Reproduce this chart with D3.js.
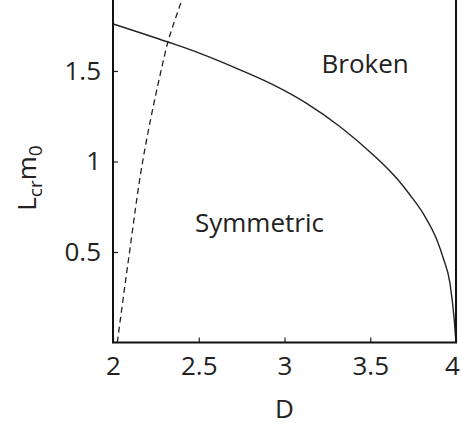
<!DOCTYPE html>
<html>
<head>
<meta charset="utf-8">
<script src="https://cdn.jsdelivr.net/npm/d3@7"></script>
<style>
  body { margin: 0; background: #fff; }
  text { font-family: "Open Sans", sans-serif; fill: #222; }
</style>
</head>
<body>
<div id="chart"></div>
<script>
// critical line L_cr m0 versus D
const solidD = [2.0, 2.32, 2.5, 2.741, 2.935, 3.129, 3.324, 3.518, 3.654, 3.732, 3.81, 3.887, 3.926, 3.965, 3.99, 4.0];
const solidL = [1.76, 1.66, 1.60, 1.506, 1.423, 1.321, 1.192, 1.036, 0.907, 0.815, 0.71, 0.57, 0.465, 0.327, 0.124, 0.0];

const dashD = [2.025, 2.095, 2.173, 2.28, 2.32, 2.40, 2.42];
const dashL = [0.0, 0.49, 1.0, 1.5, 1.66, 1.89, 1.95];

const xTicks = [2, 2.5, 3, 3.5, 4];
const yTicks = [0.5, 1, 1.5];

const width = 461;
const height = 429;
const margin = { left: 113, right: 5, top: 0, bottom: 87 };

const x = d3.scaleLinear().domain([2, 4]).range([margin.left, width - margin.right]);
const y = d3.scaleLinear().domain([0, 1.892]).range([height - margin.bottom + 0.5, margin.top]);

const svg = d3.select('#chart')
  .append('svg')
  .attr('width', width)
  .attr('height', height);

svg.append('defs').append('clipPath').attr('id', 'clip')
  .append('rect')
  .attr('x', x(2)).attr('y', 0)
  .attr('width', x(4) - x(2)).attr('height', y(0));

const plot = svg.append('g').attr('clip-path', 'url(#clip)');

plot.append('path')
  .datum(solidD.map((d, i) => [d, solidL[i]]))
  .attr('d', d3.line().x((d) => x(d[0])).y((d) => y(d[1])).curve(d3.curveMonotoneX))
  .attr('fill', 'none')
  .attr('stroke', '#222')
  .attr('stroke-width', 1.4);

plot.append('path')
  .datum(dashD.map((d, i) => [d, dashL[i]]))
  .attr('d', d3.line().x((d) => x(d[0])).y((d) => y(d[1])).curve(d3.curveMonotoneY))
  .attr('fill', 'none')
  .attr('stroke', '#222')
  .attr('stroke-width', 1.3)
  .attr('stroke-dasharray', '6,4');

// axes with inward ticks
const xAxis = svg.append('g')
  .attr('transform', `translate(0,${y(0)})`)
  .call(d3.axisBottom(x).tickValues(xTicks).tickSize(-5).tickPadding(14).tickFormat(d3.format('')));

const yAxis = svg.append('g')
  .attr('transform', `translate(${x(2)},0)`)
  .call(d3.axisLeft(y).tickValues(yTicks).tickSize(-5).tickPadding(12).tickFormat(d3.format('')));

[xAxis, yAxis].forEach((g) => {
  g.select('.domain').remove();
  g.selectAll('.tick line').attr('stroke', '#222').attr('stroke-width', 1.2);
  g.selectAll('.tick text')
    .style('font-family', '"Open Sans", sans-serif')
    .style('font-size', '26px')
    .attr('fill', '#222');
});
xAxis.selectAll('.tick text').attr('dy', '0.71em');
// last label sits against the right edge
xAxis.selectAll('.tick text').filter((d) => d === 4).attr('dx', -4);

// frame: left, bottom, right
svg.append('path')
  .attr('d', `M${x(2)},0V${y(0)}H${x(4)}V0`)
  .attr('fill', 'none')
  .attr('stroke', '#111')
  .attr('stroke-width', 2);

svg.append('text')
  .attr('x', (x(2) + x(4)) / 2)
  .attr('y', 418)
  .attr('text-anchor', 'middle')
  .style('font-size', '26px')
  .text('D');

const yl = svg.append('text')
  .attr('transform', `translate(36,178) rotate(-90)`)
  .attr('text-anchor', 'middle')
  .style('font-size', '26px');
yl.append('tspan').text('L');
yl.append('tspan').attr('dy', 6).style('font-size', '19px').text('cr');
yl.append('tspan').attr('dy', -6).text('m');
yl.append('tspan').attr('dy', 6).style('font-size', '19px').text('0');

svg.append('text')
  .attr('x', x(3.216)).attr('y', 73)
  .style('font-size', '26px')
  .text('Broken');

svg.append('text')
  .attr('x', x(2.478)).attr('y', 232)
  .style('font-size', '26px')
  .text('Symmetric');
</script>
</body>
</html>
